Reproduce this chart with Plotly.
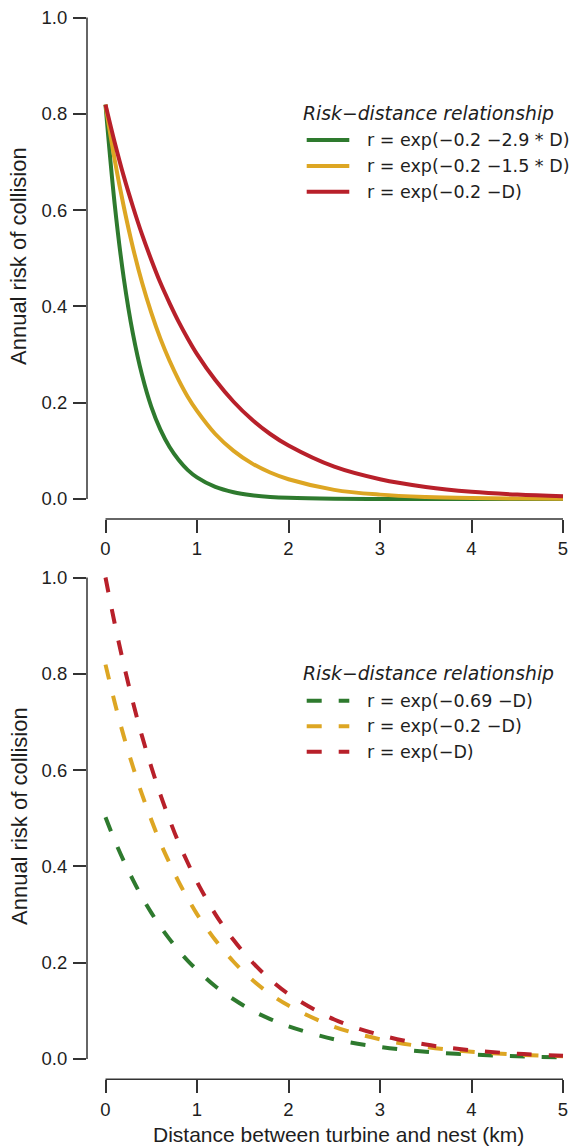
import plotly.graph_objects as go

# ---- data ----
D = [0, 0.1, 0.2, 0.3, 0.4, 0.5, 0.6, 0.7, 0.8, 0.9, 1.0, 1.2, 1.4, 1.6, 1.8, 2.0, 2.5, 3.0, 3.5, 4.0, 4.5, 5.0]

top_green = [0.819, 0.613, 0.458, 0.343, 0.257, 0.192, 0.144, 0.108, 0.081, 0.060, 0.045, 0.025, 0.014, 0.0079, 0.0044, 0.0025, 0.0006, 0.00014, 0.00003, 0.0, 0.0, 0.0]
top_yellow = [0.819, 0.705, 0.607, 0.522, 0.449, 0.387, 0.333, 0.287, 0.247, 0.212, 0.183, 0.135, 0.100, 0.074, 0.055, 0.041, 0.019, 0.0091, 0.0043, 0.0020, 0.00096, 0.00045]
top_red = [0.819, 0.741, 0.670, 0.607, 0.549, 0.497, 0.449, 0.407, 0.368, 0.333, 0.301, 0.247, 0.202, 0.165, 0.135, 0.111, 0.067, 0.041, 0.025, 0.015, 0.0091, 0.0055]

bot_green = [0.502, 0.454, 0.411, 0.372, 0.336, 0.304, 0.275, 0.249, 0.225, 0.204, 0.185, 0.151, 0.124, 0.101, 0.083, 0.068, 0.041, 0.025, 0.015, 0.0092, 0.0056, 0.0034]
bot_yellow = [0.819, 0.741, 0.670, 0.607, 0.549, 0.497, 0.449, 0.407, 0.368, 0.333, 0.301, 0.247, 0.202, 0.165, 0.135, 0.111, 0.067, 0.041, 0.025, 0.015, 0.0091, 0.0055]
bot_red = [1.0, 0.905, 0.819, 0.741, 0.670, 0.607, 0.549, 0.497, 0.449, 0.407, 0.368, 0.301, 0.247, 0.202, 0.165, 0.135, 0.082, 0.050, 0.030, 0.018, 0.011, 0.0067]

top_labels = ["r = exp(\u22120.2 \u22122.9 * D)", "r = exp(\u22120.2 \u22121.5 * D)", "r = exp(\u22120.2 \u2212D)"]
bot_labels = ["r = exp(\u22120.69 \u2212D)", "r = exp(\u22120.2 \u2212D)", "r = exp(\u2212D)"]
legend_title = "Risk\u2212distance relationship"
x_ticks = [0, 1, 2, 3, 4, 5]
y_ticks = [0.0, 0.2, 0.4, 0.6, 0.8, 1.0]
y_title = "Annual risk of collision"
x_title = "Distance between turbine and nest (km)"

colors = ["#2e7a2e", "#dda623", "#b8202a"]

# ---- layout helpers ----
W, H = 569, 1146
L = 87
PW = W - L
ARIAL = "Liberation Sans, Arial, Helvetica, sans-serif"
DEJA = "DejaVu Sans, Liberation Sans, sans-serif"
TXT = "#1e1e1e"
AX = "#333333"
DASH = "15px,17px"


def px(x):
    return (x - L) / PW


def py(y):
    return 1 - y / H


fig = go.Figure()

for ys, c in zip([top_green, top_yellow, top_red], colors):
    fig.add_trace(go.Scatter(x=D, y=ys, mode="lines", xaxis="x", yaxis="y",
                             line=dict(color=c, width=4, shape="spline", smoothing=1.0),
                             showlegend=False, hoverinfo="skip"))
for ys, c in zip([bot_green, bot_yellow, bot_red], colors):
    fig.add_trace(go.Scatter(x=D, y=ys, mode="lines", xaxis="x2", yaxis="y2",
                             line=dict(color=c, width=4, shape="spline", smoothing=1.0, dash=DASH),
                             showlegend=False, hoverinfo="skip"))

xr = [-18.5 / 91.5, (W - 105.5) / 91.5]
axis_common = dict(showgrid=False, zeroline=False, showline=False, ticks="outside",
                   ticklen=13, tickwidth=1.5, tickcolor=AX, ticklabeloverflow="allow",
                   tickfont=dict(family=ARIAL, size=18.5, color=TXT))

top_dom = [1 - 519 / H, 1.0]
bot_dom = [1 - 1079.3 / H, 1 - 560 / H]
top_yr = [-(519 - 499) / 481.5, 499 / 481.5]
bot_yr = [-(1079.3 - 1059) / 481.5, (1059 - 560) / 481.5]

fig.update_layout(
    width=W, height=H,
    margin=dict(l=L, r=0, t=0, b=0),
    paper_bgcolor="white", plot_bgcolor="white",
    xaxis=dict(domain=[0, 1], anchor="y", range=xr, tickvals=x_ticks,
               ticklabelstandoff=0, **axis_common),
    yaxis=dict(domain=top_dom, anchor="x", range=top_yr, tickvals=y_ticks,
               tickformat=".1f", ticklabelstandoff=2, **axis_common),
    xaxis2=dict(domain=[0, 1], anchor="y2", range=xr, tickvals=x_ticks,
                ticklabelstandoff=0, **axis_common),
    yaxis2=dict(domain=bot_dom, anchor="x2", range=bot_yr, tickvals=y_ticks,
                tickformat=".1f", ticklabelstandoff=2, **axis_common),
)

shapes = []
# detached axis lines (R style)
for xa, ya in [("x", "y"), ("x2", "y2")]:
    shapes.append(dict(type="line", xref=xa, yref=ya + " domain", x0=0, x1=5, y0=0, y1=0,
                       line=dict(color=AX, width=1.5)))
    shapes.append(dict(type="line", xref=xa + " domain", yref=ya, x0=0, x1=0, y0=0, y1=1,
                       line=dict(color=AX, width=1.5)))

annotations = []
# legends
for title_y, rows, labels, dash in [(113.3, [140, 166, 191.7], top_labels, None),
                                     (673.3, [700.7, 726.3, 751.7], bot_labels, DASH)]:
    annotations.append(dict(xref="paper", yref="paper", x=px(301), y=py(title_y),
                            xanchor="left", yanchor="middle", showarrow=False,
                            text="<i>" + legend_title + "</i>",
                            font=dict(family=DEJA, size=18.8, color=TXT)))
    for ry, lab, c in zip(rows, labels, colors):
        ln = dict(color=c, width=4)
        if dash:
            ln["dash"] = DASH
        shapes.append(dict(type="line", xref="paper", yref="paper",
                           x0=px(306.7), x1=px(349.3), y0=py(ry), y1=py(ry), line=ln))
        annotations.append(dict(xref="paper", yref="paper", x=px(365), y=py(ry),
                                xanchor="left", yanchor="middle", showarrow=False,
                                text=lab, font=dict(family=DEJA, size=17.5, color=TXT)))

# axis titles
for cy in [256, 816]:
    annotations.append(dict(xref="paper", yref="paper", x=px(19), y=py(cy),
                            xanchor="center", yanchor="middle", showarrow=False, textangle=-90,
                            text=y_title, font=dict(family=ARIAL, size=22, color=TXT)))
annotations.append(dict(xref="paper", yref="paper", x=px(338), y=py(1134),
                        xanchor="center", yanchor="middle", showarrow=False,
                        text=x_title, font=dict(family=ARIAL, size=21, color=TXT)))

fig.update_layout(shapes=shapes, annotations=annotations)
fig.write_html(
    "out.html",
    config={"displayModeBar": False},
    post_script="document.body.style.margin='0';document.documentElement.style.overflow='hidden';",
)
